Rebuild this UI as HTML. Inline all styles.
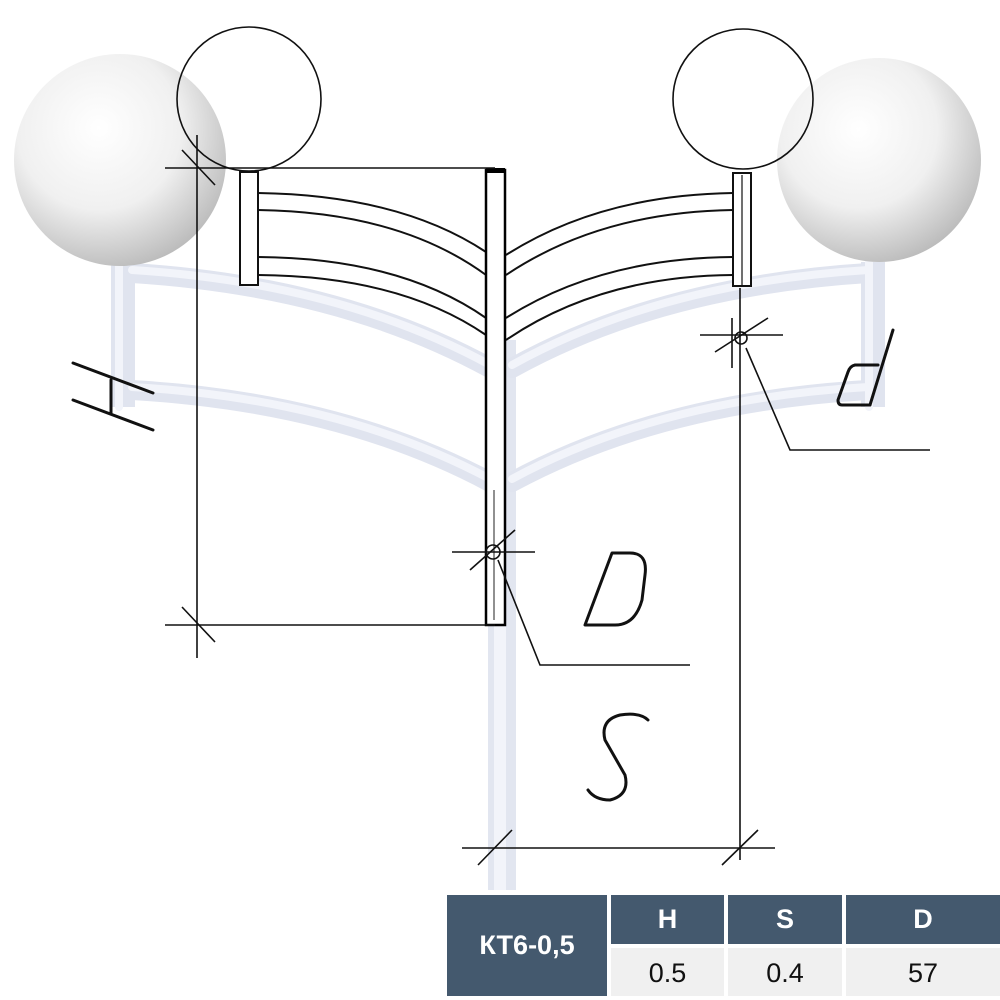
<!DOCTYPE html>
<html><head><meta charset="utf-8"><style>
body{margin:0;background:#fff;width:1000px;height:1000px;overflow:hidden;font-family:"Liberation Sans",sans-serif}
</style></head><body>
<svg width="1000" height="1000" viewBox="0 0 1000 1000" style="position:absolute;left:0;top:0">
<defs>
<radialGradient id="sph" cx="0.4" cy="0.35" r="0.7">
<stop offset="0" stop-color="#ffffff"/><stop offset="0.55" stop-color="#f0f0f0"/><stop offset="1" stop-color="#b8b8b8"/>
</radialGradient>
</defs>
<!-- pole behind -->
<rect x="488" y="340" width="28" height="550" fill="#e2e6f0"/>
<rect x="494" y="340" width="12" height="550" fill="#f2f4fa"/>
<!-- tubes -->
<g fill="none">
<path d="M123 262 V407" stroke="#e0e4ef" stroke-width="24"/>
<path d="M873 262 V407" stroke="#e0e4ef" stroke-width="24"/>
<g stroke="#e0e4ef" stroke-width="20" stroke-linecap="round">
<path d="M132 273 Q340 286 490 368"/>
<path d="M132 390 Q340 402 490 482"/>
<path d="M868 273 Q660 286 512 368"/>
<path d="M868 390 Q660 402 512 482"/>
</g>
<g stroke="#f2f4fa" stroke-width="8" stroke-linecap="round">
<path d="M132 270 Q340 283 490 365"/>
<path d="M132 387 Q340 399 490 479"/>
<path d="M868 270 Q660 283 512 365"/>
<path d="M868 387 Q660 399 512 479"/>
<path d="M119 262 V407"/><path d="M869 262 V407"/>
</g>
</g>
<!-- spheres -->
<circle cx="120" cy="160" r="106" fill="url(#sph)"/>
<circle cx="879" cy="160" r="102" fill="url(#sph)"/>
<!-- outline circles -->
<g fill="none" stroke="#111" stroke-width="1.6">
<circle cx="249" cy="99" r="72"/>
<circle cx="743" cy="99" r="70"/>
</g>
<!-- small brackets and lines -->
<g fill="none" stroke="#111" stroke-width="2">
<rect x="240" y="172" width="18" height="113" fill="#fff"/>
<rect x="733" y="173" width="18" height="113" fill="#fff"/>
<path d="M258 193 Q400 195 486 252"/>
<path d="M258 210 Q400 212 486 275"/>
<path d="M258 257 Q400 258 486 318"/>
<path d="M258 275 Q400 276 486 335"/>
<path d="M733 193 Q600 195 506 255"/>
<path d="M733 210 Q600 212 506 275"/>
<path d="M733 257 Q600 258 506 318"/>
<path d="M733 275 Q600 276 506 340"/>
<line x1="742" y1="175" x2="742" y2="285" stroke-width="1.2"/>
</g>
<!-- main pole outline -->
<rect x="486" y="170" width="19" height="455" fill="#fff" stroke="#000" stroke-width="2.5"/>
<rect x="486" y="168" width="19" height="5" fill="#000"/>
<line x1="494" y1="490" x2="494" y2="620" stroke="#222" stroke-width="1"/>
<!-- dimensions -->
<g stroke="#111" stroke-width="1.6" fill="none">
<line x1="197" y1="135" x2="197" y2="658"/>
<line x1="165" y1="168" x2="495" y2="168"/>
<line x1="165" y1="625" x2="495" y2="625"/>
<line x1="182" y1="150" x2="215" y2="185"/>
<line x1="182" y1="607" x2="215" y2="642"/>
<line x1="452" y1="552" x2="535" y2="552"/>
<line x1="470" y1="570" x2="515" y2="530"/>
<circle cx="493" cy="552" r="7"/>
<polyline points="498,560 540,665 690,665"/>
<line x1="700" y1="335" x2="783" y2="335"/>
<line x1="715" y1="352" x2="768" y2="318"/>
<circle cx="741" cy="338" r="6"/>
<line x1="732" y1="318" x2="732" y2="368"/>
<polyline points="746,348 790,450 930,450"/>
<line x1="740" y1="288" x2="740" y2="860"/>
<line x1="462" y1="848" x2="775" y2="848"/>
<line x1="478" y1="865" x2="512" y2="830"/>
<line x1="722" y1="865" x2="758" y2="830"/>
</g>
<!-- labels -->
<g fill="none" stroke="#111" stroke-width="3" stroke-linejoin="round" stroke-linecap="round">
<path d="M73 363 L153 393 M73 400 L153 430 M111 380 L111 413"/>
<path d="M612 553 L585 625 L615 625 Q635 625 642 600 L645 575 Q648 553 630 553 Z"/>
<path d="M893 330 L870 405 M878 365 L855 365 Q850 366 848 372 L838 400 Q838 405 842 405 L870 405"/>
<path d="M648 720 Q640 712 620 715 Q600 720 605 740 L625 775 Q630 795 610 800 Q595 800 588 790"/>
</g>
</svg>
<!-- table -->
<div style="position:absolute;left:447px;top:895px;width:160px;height:101px;background:#44596e;color:#fff;font-size:27px;font-weight:bold;display:flex;align-items:center;justify-content:center">КТ6-0,5</div>
<div style="position:absolute;left:611px;top:895px;width:113px;height:49px;background:#44596e;color:#fff;font-size:27px;font-weight:bold;text-align:center;line-height:49px">H</div>
<div style="position:absolute;left:728px;top:895px;width:114px;height:49px;background:#44596e;color:#fff;font-size:27px;font-weight:bold;text-align:center;line-height:49px">S</div>
<div style="position:absolute;left:846px;top:895px;width:154px;height:49px;background:#44596e;color:#fff;font-size:27px;font-weight:bold;text-align:center;line-height:49px">D</div>
<div style="position:absolute;left:611px;top:948px;width:113px;height:48px;background:#f0f0f0;color:#111;font-size:27px;text-align:center;line-height:50px">0.5</div>
<div style="position:absolute;left:728px;top:948px;width:114px;height:48px;background:#f0f0f0;color:#111;font-size:27px;text-align:center;line-height:50px">0.4</div>
<div style="position:absolute;left:846px;top:948px;width:154px;height:48px;background:#f0f0f0;color:#111;font-size:27px;text-align:center;line-height:50px">57</div>
</body></html>
